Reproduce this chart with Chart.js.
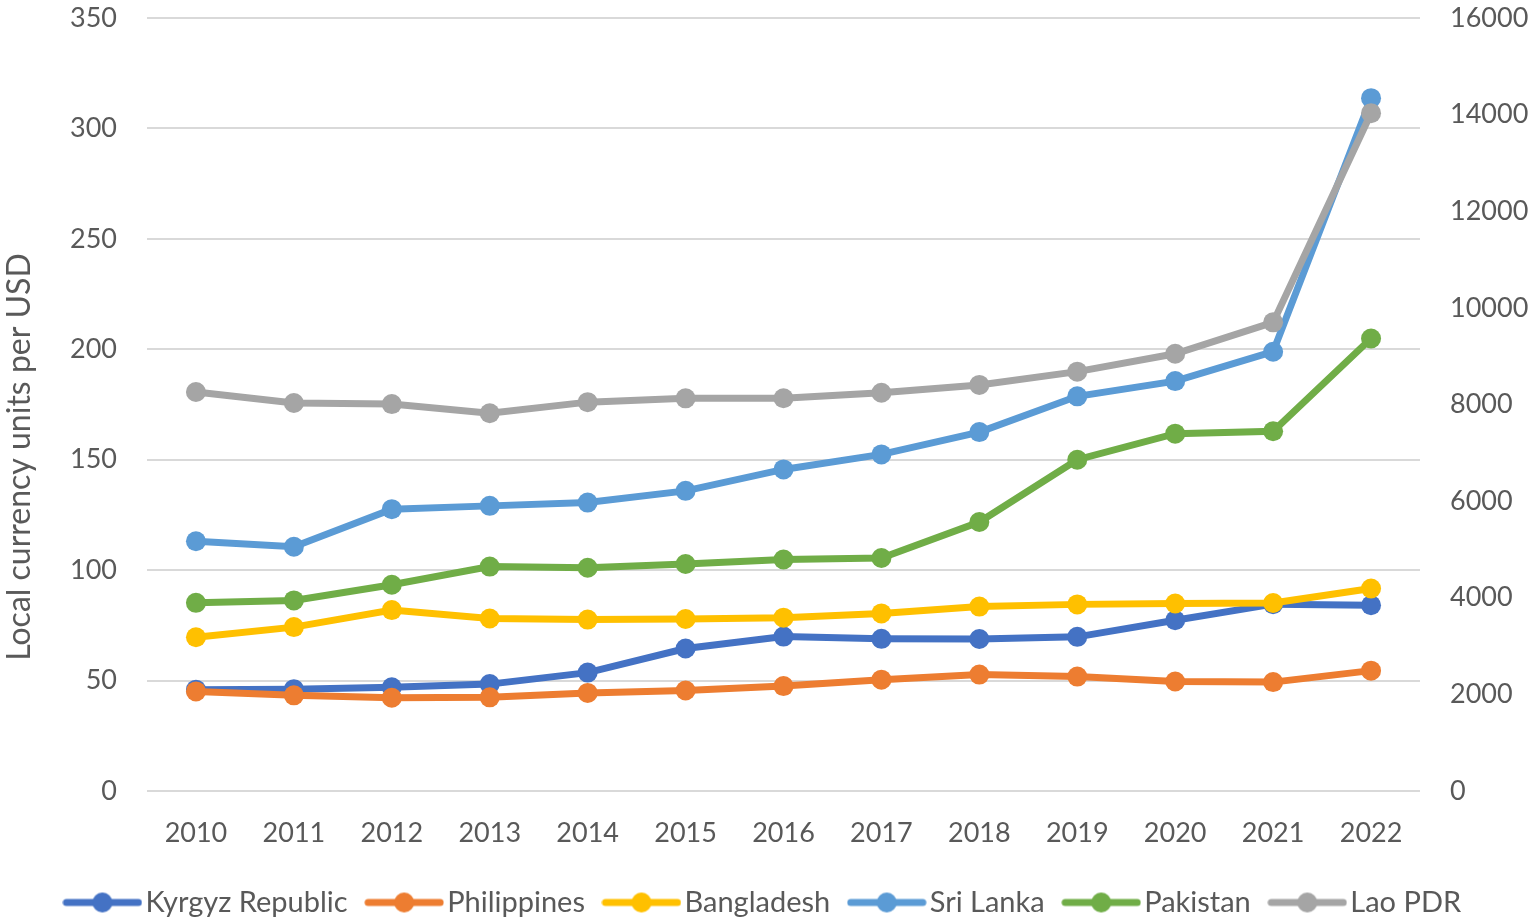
<!DOCTYPE html>
<html lang="en">
<head>
    <meta charset="UTF-8">
    <title>Exchange rates</title>
    <script src="https://cdn.jsdelivr.net/npm/chart.js"></script>
    <style>
        html, body { margin: 0; padding: 0; background: white; }
        #wrap { width: 1535px; height: 923px; }
    </style>
</head>
<body>
    <div id="wrap"><canvas id="rateChart" width="1535" height="923"></canvas></div>

    <script>
        // values
        const years = ['2010', '2011', '2012', '2013', '2014', '2015', '2016', '2017', '2018', '2019', '2020', '2021', '2022'];
        const kyrgyz = [45.9, 46.1, 47.0, 48.4, 53.6, 64.5, 69.9, 68.9, 68.8, 69.8, 77.3, 84.6, 84.1];
        const philippines = [45.1, 43.3, 42.2, 42.4, 44.4, 45.5, 47.5, 50.4, 52.7, 51.8, 49.6, 49.3, 54.5];
        const bangladesh = [69.6, 74.2, 81.9, 78.1, 77.6, 77.9, 78.5, 80.4, 83.5, 84.5, 84.9, 85.1, 91.7];
        const sriLanka = [113.1, 110.6, 127.6, 129.1, 130.6, 135.9, 145.6, 152.4, 162.5, 178.7, 185.6, 198.9, 313.7];
        const pakistan = [85.2, 86.3, 93.4, 101.6, 101.1, 102.8, 104.8, 105.5, 121.8, 150.0, 161.8, 162.9, 204.9];
        const laoPdr = [8259, 8030, 8008, 7820, 8049, 8128, 8130, 8244, 8405, 8680, 9050, 9700, 14030];

        const leftTicks = [0, 50, 100, 150, 200, 250, 300, 350];
        const rightTicks = [0, 2000, 4000, 6000, 8000, 10000, 12000, 14000, 16000];
        const yTitle = 'Local currency units per USD';

        const textColor = '#595959';
        const gridColor = '#d9d9d9';
        const fontFamily = 'Lato, "Noto Sans", sans-serif';

        // little line-with-dot picture for the legend
        function legendMarker(color) {
            const c = document.createElement('canvas');
            c.width = 80;
            c.height = 22;
            const g = c.getContext('2d');
            g.strokeStyle = color;
            g.lineWidth = 7;
            g.lineCap = 'round';
            g.beginPath();
            g.moveTo(4, 11);
            g.lineTo(76, 11);
            g.stroke();
            g.fillStyle = color;
            g.beginPath();
            g.arc(40, 11, 10, 0, Math.PI * 2);
            g.fill();
            return c;
        }

        function series(label, data, color, axis, idx) {
            return {
                label: label,
                data: data,
                yAxisID: axis,
                borderColor: color,
                backgroundColor: color,
                borderWidth: 7,
                pointRadius: 10,
                pointHoverRadius: 10,
                pointBorderWidth: 0,
                pointStyle: 'circle',
                tension: 0,
                order: 6 - idx,
                marker: legendMarker(color)
            };
        }

        const datasets = [
            series('Kyrgyz Republic', kyrgyz, '#4472c4', 'y', 0),
            series('Philippines', philippines, '#ed7d31', 'y', 1),
            series('Bangladesh', bangladesh, '#ffc000', 'y', 2),
            series('Sri Lanka', sriLanka, '#5b9bd5', 'y', 3),
            series('Pakistan', pakistan, '#70ad47', 'y', 4),
            series('Lao PDR', laoPdr, '#a5a5a5', 'y1', 5)
        ];

        // axis title sits a bit lower than the plot middle in the original
        const sideTitle = {
            id: 'sideTitle',
            afterDraw(chart) {
                const ctx = chart.ctx;
                ctx.save();
                ctx.translate(20, 457);
                ctx.rotate(-Math.PI / 2);
                ctx.fillStyle = textColor;
                ctx.font = '32px ' + fontFamily;
                ctx.textAlign = 'center';
                ctx.textBaseline = 'middle';
                ctx.fillText(yTitle, 0, 0);
                ctx.restore();
            }
        };

        const plainNumber = (v) => String(v);

        new Chart(document.getElementById('rateChart'), {
            type: 'line',
            data: { labels: years, datasets: datasets },
            options: {
                responsive: false,
                animation: false,
                layout: { padding: { top: 18, right: 0, bottom: -4, left: 0 } },
                plugins: {
                    tooltip: { enabled: false },
                    legend: {
                        position: 'bottom',
                        sort: (a, b) => a.datasetIndex - b.datasetIndex,
                        labels: {
                            usePointStyle: true,
                            pointStyleWidth: 57,
                            padding: 28,
                            color: textColor,
                            font: { family: fontFamily, size: 29 },
                            generateLabels: function (chart) {
                                return chart.data.datasets.map((ds, i) => ({
                                    text: ds.label,
                                    datasetIndex: i,
                                    pointStyle: ds.marker,
                                    fillStyle: ds.borderColor,
                                    strokeStyle: ds.borderColor,
                                    lineWidth: 0,
                                    fontColor: textColor,
                                    hidden: false
                                }));
                            }
                        }
                    }
                },
                scales: {
                    x: {
                        offset: true,
                        grid: { display: false, drawTicks: false },
                        border: { display: false },
                        ticks: {
                            color: textColor,
                            font: { family: fontFamily, size: 27 },
                            padding: 26,
                            maxRotation: 0
                        },
                        afterFit: (s) => { s.height = 69; }
                    },
                    y: {
                        position: 'left',
                        min: 0,
                        max: 350,
                        afterBuildTicks: (s) => { s.ticks = leftTicks.map(v => ({ value: v })); },
                        grid: { color: gridColor, lineWidth: 2, drawTicks: false },
                        border: { display: false },
                        ticks: {
                            color: textColor,
                            font: { family: fontFamily, size: 27 },
                            padding: 30,
                            callback: plainNumber
                        },
                        afterFit: (s) => { s.width = 147; s.paddingTop = 0; s.paddingBottom = 0; }
                    },
                    y1: {
                        position: 'right',
                        min: 0,
                        max: 16000,
                        afterBuildTicks: (s) => { s.ticks = rightTicks.map(v => ({ value: v })); },
                        grid: { display: false, drawTicks: false },
                        border: { display: false },
                        ticks: {
                            color: textColor,
                            font: { family: fontFamily, size: 27 },
                            padding: 30,
                            callback: plainNumber
                        },
                        afterFit: (s) => { s.width = 115; s.paddingTop = 0; s.paddingBottom = 0; }
                    }
                }
            },
            plugins: [sideTitle]
        });
    </script>
</body>
</html>
